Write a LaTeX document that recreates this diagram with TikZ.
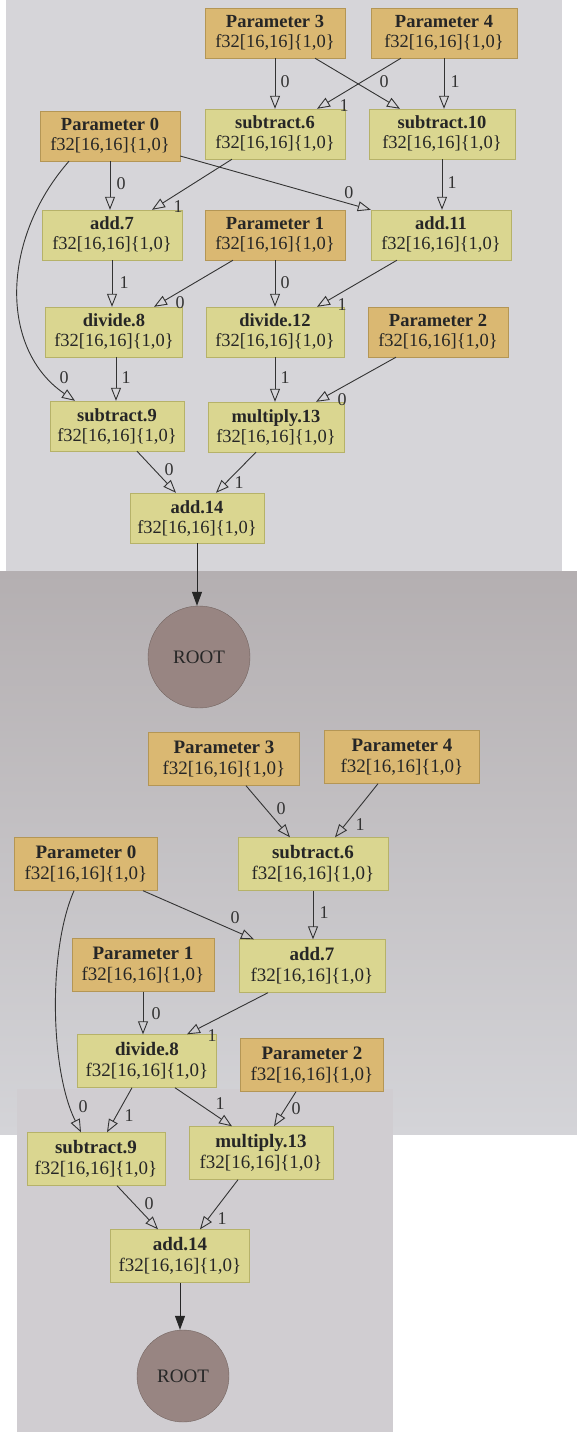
\documentclass[tikz,border=0pt]{standalone}
\usepackage{fontspec}
\setmainfont{Liberation Serif}
\usetikzlibrary{arrows.meta}

\definecolor{bgtop}{RGB}{214,213,217}
\definecolor{bgmidA}{RGB}{180,175,177}
\definecolor{bgmidB}{RGB}{212,212,216}
\definecolor{bglow}{RGB}{208,205,209}
\definecolor{paramfill}{RGB}{218,184,114}
\definecolor{paramline}{RGB}{180,150,85}
\definecolor{opfill}{RGB}{218,214,144}
\definecolor{opline}{RGB}{182,178,105}
\definecolor{rootfill}{RGB}{152,133,130}
\definecolor{rootline}{RGB}{115,100,96}

\begin{document}
\begin{tikzpicture}[x=1pt,y=-1pt,
  box/.style={rectangle, align=center, text=black!85, inner sep=2pt,
    font=\fontsize{18.5}{20}\selectfont, minimum width=140pt, minimum height=50pt},
  boxb/.style={box, font=\fontsize{19}{21}\selectfont, minimum width=146pt, minimum height=53pt},
  param/.style={fill=paramfill, draw=paramline},
  op/.style={fill=opfill, draw=opline},
  rootnode/.style={circle, fill=rootfill, draw=rootline, text=black!85,
    font=\fontsize{19}{20}\selectfont, inner sep=0pt},
  e/.style={draw=black!80, line width=0.9pt, -{Triangle[open,length=13pt,width=10pt]}},
  eroot/.style={draw=black!85, line width=1pt, -{Triangle[length=14pt,width=10pt]}},
  lbl/.style={font=\fontsize{18}{20}\selectfont, text=black!80, inner sep=0pt, pos=1}]

\useasboundingbox (0,0) rectangle (577,1432);
\fill[white] (0,0) rectangle (577,1432);
\fill[bgtop] (6,0) rectangle (562,571);
\shade[top color=bgmidA, bottom color=bgmidB] (0,571) rectangle (577,1134);
\fill[bglow] (17,1089) rectangle (393,1432);

% first graph
\node[box,param] (p3a) at (275,33) {\textbf{Parameter 3}\\f32[16,16]\{1,0\}};
\node[box,param,minimum width=146pt] (p4a) at (444,33) {\textbf{Parameter 4}\\f32[16,16]\{1,0\}};
\node[box,param] (p0a) at (110,136) {\textbf{Parameter 0}\\f32[16,16]\{1,0\}};
\node[box,op] (s6a) at (275,134) {\textbf{subtract.6}\\f32[16,16]\{1,0\}};
\node[box,op,minimum width=146pt] (s10a) at (442,134) {\textbf{subtract.10}\\f32[16,16]\{1,0\}};
\node[box,op] (add7a) at (112,235) {\textbf{add.7}\\f32[16,16]\{1,0\}};
\node[box,param] (p1a) at (275,235) {\textbf{Parameter 1}\\f32[16,16]\{1,0\}};
\node[box,op] (add11a) at (441,235) {\textbf{add.11}\\f32[16,16]\{1,0\}};
\node[box,op,minimum width=137pt] (div8a) at (114,332) {\textbf{divide.8}\\f32[16,16]\{1,0\}};
\node[box,op,minimum width=138pt] (div12a) at (275,332) {\textbf{divide.12}\\f32[16,16]\{1,0\}};
\node[box,param] (p2a) at (438,332) {\textbf{Parameter 2}\\f32[16,16]\{1,0\}};
\node[box,op,minimum width=134pt] (s9a) at (117,426) {\textbf{subtract.9}\\f32[16,16]\{1,0\}};
\node[box,op,minimum width=136pt] (mul13a) at (276,427) {\textbf{multiply.13}\\f32[16,16]\{1,0\}};
\node[box,op,minimum width=134pt] (add14a) at (197,518) {\textbf{add.14}\\f32[16,16]\{1,0\}};
\node[rootnode,minimum size=102pt] (roota) at (199,657) {ROOT};

\draw[e] (p3a.south) -- (s6a.north) node[lbl,xshift=10pt,yshift=27pt] {0};
\draw[e] ([xshift=40pt]p3a.south) -- ([xshift=-42pt]s10a.north) node[lbl,xshift=-16pt,yshift=27pt] {0};
\draw[e] ([xshift=-43pt]p4a.south) -- ([xshift=42pt]s6a.north) node[lbl,xshift=27pt,yshift=3pt] {1};
\draw[e] (p4a.south) -- (p4a.south |- s10a.north) node[lbl,xshift=11pt,yshift=27pt] {1};
\draw[e] (p0a.south) -- (p0a.south |- add7a.north) node[lbl,xshift=11pt,yshift=26pt] {0};
\draw[e] ([xshift=-43pt]s6a.south) -- ([xshift=40pt]add7a.north) node[lbl,xshift=26pt,yshift=3pt] {1};
\draw[e] ([yshift=-20pt]p0a.east) -- (add11a.north west) node[lbl,xshift=-22pt,yshift=17pt] {0};
\draw[e] (s10a.south) -- (s10a.south |- add11a.north) node[lbl,xshift=10pt,yshift=27pt] {1};
\draw[e] ([xshift=-41pt]p0a.south) .. controls (0,240) and (0,350) .. ([xshift=-42pt]s9a.north)
  node[lbl,xshift=-11pt,yshift=23pt] {0};
\draw[e] (add7a.south) -- (add7a.south |- div8a.north) node[lbl,xshift=12pt,yshift=24pt] {1};
\draw[e] ([xshift=-42pt]p1a.south) -- ([xshift=40pt]div8a.north) node[lbl,xshift=26pt,yshift=4pt] {0};
\draw[e] (p1a.south) -- (div12a.north) node[lbl,xshift=10pt,yshift=24pt] {0};
\draw[e] ([xshift=-44pt]add11a.south) -- ([xshift=42pt]div12a.north) node[lbl,xshift=25pt,yshift=2pt] {1};
\draw[e] ([xshift=2pt]div8a.south) -- ([xshift=2pt]div8a.south |- s9a.north) node[lbl,xshift=10pt,yshift=23pt] {1};
\draw[e] (div12a.south) -- (div12a.south |- mul13a.north) node[lbl,xshift=10pt,yshift=24pt] {1};
\draw[e] ([xshift=-42pt]p2a.south) -- ([xshift=40pt]mul13a.north) node[lbl,xshift=26pt,yshift=2pt] {0};
\draw[e] ([xshift=20pt]s9a.south) -- ([xshift=-21pt]add14a.north) node[lbl,xshift=-7pt,yshift=23pt] {0};
\draw[e] ([xshift=-20pt]mul13a.south) -- ([xshift=19pt]add14a.north) node[lbl,xshift=23pt,yshift=10pt] {1};
\draw[eroot] (add14a.south) -- (add14a.south |- roota.north);

% second graph
\node[boxb,param,minimum width=151pt] (p3b) at (224,759) {\textbf{Parameter 3}\\f32[16,16]\{1,0\}};
\node[boxb,param,minimum width=155pt] (p4b) at (402,757) {\textbf{Parameter 4}\\f32[16,16]\{1,0\}};
\node[boxb,op,minimum width=150pt] (s6b) at (313,864) {\textbf{subtract.6}\\f32[16,16]\{1,0\}};
\node[boxb,param,minimum width=143pt] (p0b) at (86,864) {\textbf{Parameter 0}\\f32[16,16]\{1,0\}};
\node[boxb,param,minimum width=142pt] (p1b) at (143,965) {\textbf{Parameter 1}\\f32[16,16]\{1,0\}};
\node[boxb,op] (add7b) at (312,966) {\textbf{add.7}\\f32[16,16]\{1,0\}};
\node[boxb,op,minimum width=139pt] (div8b) at (147,1061) {\textbf{divide.8}\\f32[16,16]\{1,0\}};
\node[boxb,param,minimum width=143pt] (p2b) at (312,1065) {\textbf{Parameter 2}\\f32[16,16]\{1,0\}};
\node[boxb,op,minimum width=138pt] (s9b) at (96,1159) {\textbf{subtract.9}\\f32[16,16]\{1,0\}};
\node[boxb,op,minimum width=144pt] (mul13b) at (261,1153) {\textbf{multiply.13}\\f32[16,16]\{1,0\}};
\node[boxb,op,minimum width=139pt] (add14b) at (180,1256) {\textbf{add.14}\\f32[16,16]\{1,0\}};
\node[rootnode,minimum size=92pt] (rootb) at (183,1376) {ROOT};

\draw[e] ([xshift=22pt]p3b.south) -- ([xshift=-23pt]s6b.north) node[lbl,xshift=-9pt,yshift=29pt] {0};
\draw[e] ([xshift=-24pt]p4b.south) -- ([xshift=22pt]s6b.north) node[lbl,xshift=25pt,yshift=13pt] {1};
\draw[e] ([xshift=57pt]p0b.south) -- ([xshift=-58pt]add7b.north) node[lbl,xshift=-19pt,yshift=22pt] {0};
\draw[e] (s6b.south) -- (s6b.south |- add7b.north) node[lbl,xshift=11pt,yshift=27pt] {1};
\draw[e] ([xshift=-12pt]p0b.south) .. controls (48,950) and (50,1070) .. ([xshift=-15pt]s9b.north)
  node[lbl,xshift=2pt,yshift=26pt] {0};
\draw[e] (p1b.south) -- (p1b.south |- div8b.north) node[lbl,xshift=13pt,yshift=21pt] {0};
\draw[e] ([xshift=-44pt]add7b.south) -- ([xshift=40pt]div8b.north) node[lbl,xshift=25pt,yshift=-1pt] {1};
\draw[e] ([xshift=-15pt]div8b.south) -- ([xshift=11pt]s9b.north) node[lbl,xshift=22pt,yshift=17pt] {1};
\draw[e] ([xshift=28pt]div8b.south) -- ([xshift=-29pt]mul13b.north) node[lbl,xshift=-12pt,yshift=23pt] {1};
\draw[e] ([xshift=-16pt]p2b.south) -- ([xshift=13pt]mul13b.north) node[lbl,xshift=22pt,yshift=18pt] {0};
\draw[e] ([xshift=21pt]s9b.south) -- ([xshift=-22pt]add14b.north) node[lbl,xshift=-9pt,yshift=26pt] {0};
\draw[e] ([xshift=-23pt]mul13b.south) -- ([xshift=20pt]add14b.north) node[lbl,xshift=22pt,yshift=11pt] {1};
\draw[eroot] (add14b.south) -- (add14b.south |- rootb.north);
\end{tikzpicture}
\end{document}
